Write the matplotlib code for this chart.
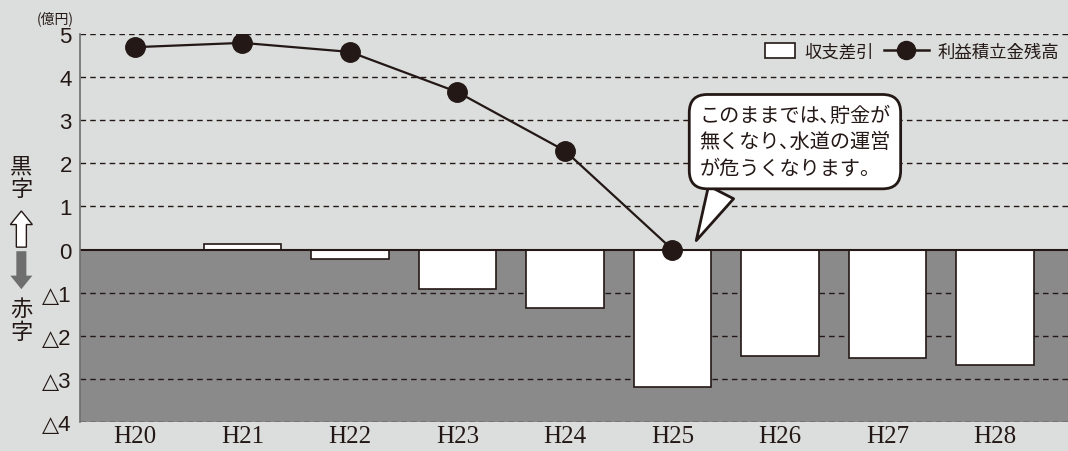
import matplotlib.pyplot as plt
from matplotlib.lines import Line2D
from matplotlib.patches import Patch, FancyArrow, Rectangle
from matplotlib.legend_handler import HandlerPatch

plt.rcParams['font.family'] = ['Noto Sans CJK JP', 'DejaVu Sans']

years = ["H20", "H21", "H22", "H23", "H24", "H25", "H26", "H27", "H28"]
balance = [-0.02, 0.13, -0.22, -0.92, -1.36, -3.18, -2.47, -2.52, -2.67]
reserve_years = ["H20", "H21", "H22", "H23", "H24", "H25"]
reserve = [4.69, 4.79, 4.58, 3.65, 2.29, 0.0]
yticks = [-4, -3, -2, -1, 0, 1, 2, 3, 4, 5]
ytick_labels = ["△4", "△3", "△2", "△1", "0", "1", "2", "3", "4", "5"]

ink = "#231815"
bg = "#dcdedd"
neg = "#8a8a8a"

fig = plt.figure(figsize=(10.68, 4.52), dpi=100, facecolor=bg)
ax = fig.add_axes([0.075, 0.064, 0.925, 0.859])
ax.set_facecolor(bg)

x = list(range(len(years)))
ax.axhspan(-4, 0, color=neg, zorder=0.2, lw=0)
for t in yticks:
    if t != 0:
        ax.axhline(t, color=ink, ls=(0, (4, 3)), lw=1, zorder=0.5)
ax.bar(x, balance, width=0.72, color="white", edgecolor=ink, lw=1.2, zorder=2)
ax.axhline(0, color=ink, lw=1.5, zorder=2.5)
ax.plot(range(len(reserve_years)), reserve, color=ink, lw=1.6, marker="o",
        markersize=14, zorder=4)

ax.set_xlim(-0.51, 8.68)
ax.set_ylim(-4, 5)
ax.set_xticks(x)
ax.set_xticklabels(years, family="Liberation Serif", fontsize=18)
ax.set_yticks(yticks)
ax.set_yticklabels(ytick_labels, family=["Liberation Sans", "DejaVu Sans"], fontsize=16)
ax.tick_params(axis="y", length=0, pad=6, colors=ink)
ax.tick_params(axis="x", length=0, pad=2, colors=ink)
for s in ["top", "right", "bottom"]:
    ax.spines[s].set_visible(False)
ax.spines["left"].set_color("#6e6e6e")
ax.spines["left"].set_linewidth(1.2)


def narrow_box(legend, orig_handle, xdescent, ydescent, width, height, fontsize):
    w = width * 0.66
    return Rectangle((-xdescent + width - w, -ydescent - 1), w, height + 2)


handles = [Patch(facecolor="white", edgecolor=ink, lw=1.2),
           Line2D([], [], color=ink, marker="o", markersize=13, lw=1.8)]
ax.legend(handles, ["収支差引", "利益積立金残高"], loc="upper right",
          bbox_to_anchor=(1.0, 1.0), frameon=False, fontsize=12.5, ncol=2,
          handlelength=2.6, columnspacing=0.6, handletextpad=0.5,
          labelcolor=ink, borderaxespad=0.1,
          handler_map={Patch: HandlerPatch(patch_func=narrow_box)})

ax.annotate("このままでは､貯金が\n無くなり､水道の運営\nが危うくなります。",
            xy=(5.21, 0.15), xytext=(6.14, 2.5), ha="center", va="center",
            multialignment="left", fontsize=14.5, color=ink, linespacing=1.35,
            bbox=dict(boxstyle="round,pad=0.5,rounding_size=0.9", fc="white",
                      ec=ink, lw=2),
            arrowprops=dict(arrowstyle="wedge,tail_width=1.4,shrink_factor=0.5",
                            fc="white", ec=ink, lw=2, relpos=(0.15, 0.0)),
            zorder=5)

fig.text(0.052, 0.958, "(億円)", fontsize=10, ha="center", va="center", color=ink)

fig.text(0.02, 0.606, "黒\n字", fontsize=16, ha="center", va="center",
         color=ink, linespacing=1.0)
fig.text(0.02, 0.29, "赤\n字", fontsize=16, ha="center", va="center",
         color=ink, linespacing=1.0)
fig.patches.append(FancyArrow(0.02, 0.451, 0, 0.08, width=0.0094,
                              head_width=0.0206, head_length=0.03,
                              length_includes_head=True, fc="white", ec=ink,
                              lw=1.0, transform=fig.transFigure))
fig.patches.append(FancyArrow(0.02, 0.442, 0, -0.084, width=0.0094,
                              head_width=0.0206, head_length=0.03,
                              length_includes_head=True, fc="#6e6e6e", ec="none",
                              transform=fig.transFigure))

fig.savefig("out.png", dpi=100, facecolor=bg)
